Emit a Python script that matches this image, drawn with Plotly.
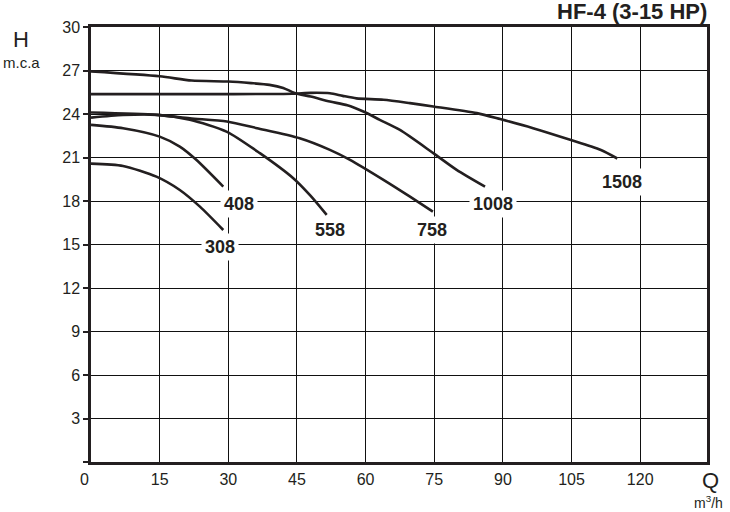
import plotly.graph_objects as go

# ---- data ----
q_308 = [0, 7, 14.3, 19.4, 23.8, 28.9]
h_308 = [20.58, 20.42, 19.68, 18.76, 17.61, 16.0]

q_408 = [0, 7, 15, 19.4, 23, 28.9]
h_408 = [23.25, 23.02, 22.44, 21.75, 20.84, 18.99]

q_558 = [0, 7, 14.4, 21.6, 29.6, 36.9, 44.2, 48, 51.5]
h_558 = [23.75, 23.93, 23.94, 23.6, 22.79, 21.3, 19.57, 18.35, 17.04]

q_758 = [0, 14.4, 21.6, 29.7, 36.3, 45.6, 52.2, 56.6, 63.9, 69.7, 74.7]
h_758 = [24.1, 23.94, 23.7, 23.48, 23.02, 22.33, 21.53, 20.84, 19.46, 18.3, 17.27]

q_1008 = [0, 15, 22, 30, 35, 39, 42, 44.5, 48, 52.2, 56, 59.5, 63.1, 67.5, 74.8, 79.9, 86.1]
h_1008 = [26.94, 26.6, 26.31, 26.24, 26.13, 26.01, 25.8, 25.45, 25.2, 24.86, 24.6, 24.17, 23.6, 22.9, 21.3, 20.15, 18.99]

q_1508 = [0, 30, 44, 48, 52.2, 55, 58, 63.9, 69.7, 74.8, 84.3, 89.4, 96.6, 104.7, 111.3, 115]
h_1508 = [25.37, 25.37, 25.4, 25.46, 25.43, 25.25, 25.08, 24.98, 24.75, 24.52, 24.06, 23.65, 23.02, 22.22, 21.53, 20.93]

curve_names = ["308", "408", "558", "758", "1008", "1508"]
curve_q = [q_308, q_408, q_558, q_758, q_1008, q_1508]
curve_h = [h_308, h_408, h_558, h_758, h_1008, h_1508]

# label anchor positions (Q, H)
label_q = [28.1, 32.3, 52.2, 74.5, 87.8, 116.0]
label_h = [14.83, 17.8, 16.0, 16.0, 17.8, 19.3]

x_ticks = [0, 15, 30, 45, 60, 75, 90, 105, 120]
x_tick_text = ["0\u00a0\u00a0\u00a0", "15", "30", "45", "60", "75", "90", "105", "120"]
y_ticks = [0, 3, 6, 9, 12, 15, 18, 21, 24, 27, 30]
y_tick_text = [" ", "3", "6", "9", "12", "15", "18", "21", "24", "27", "30"]

INK = "#231f20"
FONT = "Liberation Sans, Arial, sans-serif"

fig = go.Figure()
for name, qs, hs in zip(curve_names, curve_q, curve_h):
    fig.add_trace(go.Scatter(
        x=qs, y=hs, mode="lines", name=name,
        line=dict(color=INK, width=2.6, shape="spline", smoothing=0.7),
        showlegend=False, hoverinfo="skip"))

for name, lq, lh in zip(curve_names, label_q, label_h):
    fig.add_annotation(x=lq, y=lh, xref="x", yref="y", text=f"<b>{name}</b>",
                       showarrow=False, bgcolor="white", borderpad=3,
                       font=dict(family=FONT, size=18, color=INK))

fig.update_layout(
    width=730, height=512,
    margin=dict(l=91, r=23, t=27, b=50),
    paper_bgcolor="white", plot_bgcolor="white",
    font=dict(family=FONT, color=INK),
)
fig.update_xaxes(
    range=[0, 134.6], tickvals=x_ticks, ticktext=x_tick_text,
    showgrid=True, gridcolor="#111", gridwidth=1,
    showline=True, linecolor=INK, linewidth=2.5, mirror=True,
    ticks="", ticklabelstandoff=1, zeroline=False,
    tickfont=dict(family=FONT, size=16, color=INK),
)
fig.update_yaxes(
    range=[0, 30], tickvals=y_ticks, ticktext=y_tick_text,
    showgrid=True, gridcolor="#111", gridwidth=1,
    showline=True, linecolor=INK, linewidth=2.5, mirror=True,
    ticks="outside", ticklen=5, tickcolor=INK, tickwidth=1.5, zeroline=False,
    tickfont=dict(family=FONT, size=16, color=INK),
)

fig.add_annotation(xref="paper", yref="paper", x=1.003, y=1.0356, xanchor="right", yanchor="middle",
                   text="<b>HF-4 (3-15 HP)</b>", showarrow=False,
                   font=dict(family=FONT, size=22, color=INK))
fig.add_annotation(xref="paper", yref="paper", x=-0.1136, y=0.972, xanchor="center", yanchor="middle",
                   text="H", showarrow=False, font=dict(family=FONT, size=22, color=INK))
fig.add_annotation(xref="paper", yref="paper", x=-0.113, y=0.9195, xanchor="center", yanchor="middle",
                   text="m.c.a", showarrow=False, font=dict(family=FONT, size=15, color=INK))
fig.add_annotation(xref="paper", yref="paper", x=1.005, y=-0.0425, xanchor="center", yanchor="middle",
                   text="Q", showarrow=False, font=dict(family=FONT, size=22, color=INK))
fig.add_annotation(xref="paper", yref="paper", x=1.03, y=-0.091, xanchor="right", yanchor="middle",
                   text="m<sup>3</sup>/h", showarrow=False, font=dict(family=FONT, size=14, color=INK))

fig.write_html("out.html", config={"displayModeBar": False},
               post_script="document.body.style.margin='0';document.body.style.overflow='hidden';")
